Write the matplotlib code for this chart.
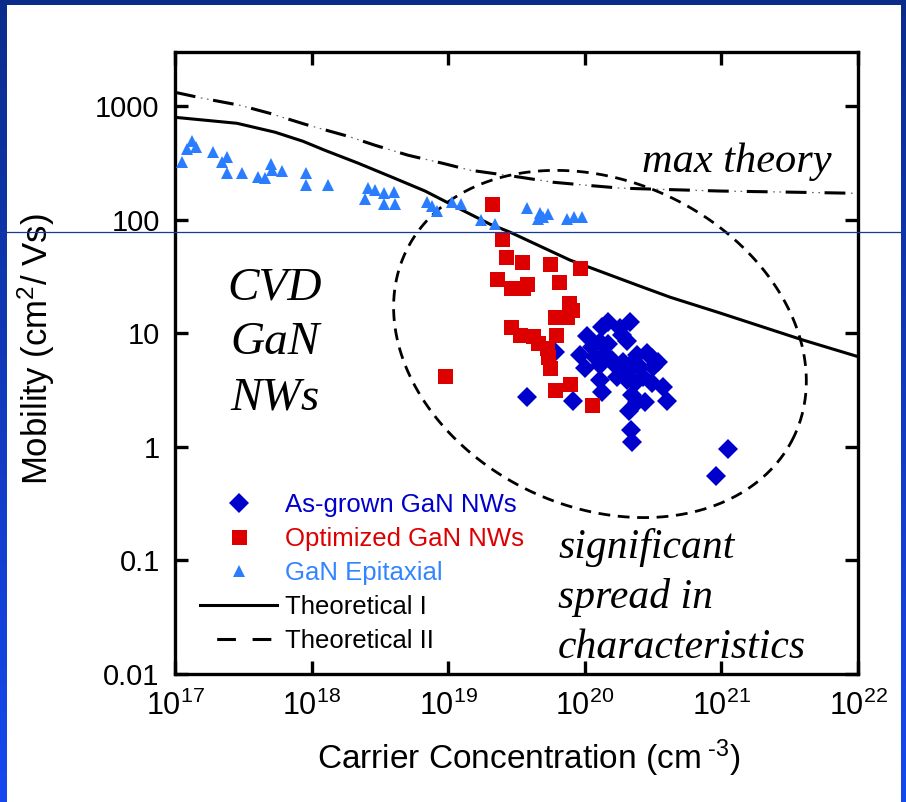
import numpy as np
import matplotlib
matplotlib.use('Agg')
import matplotlib.pyplot as plt
from matplotlib.lines import Line2D

plt.rcParams['font.family'] = ['Liberation Sans', 'DejaVu Sans']
plt.rcParams['mathtext.fontset'] = 'custom'
plt.rcParams['mathtext.rm'] = 'Liberation Sans'
plt.rcParams['mathtext.it'] = 'Liberation Sans:italic'
plt.rcParams['lines.scale_dashes'] = False

# ---------------- data ----------------
epi_n = [1.13e17, 1.22e17, 1.33e17, 1.43e17, 1.90e17, 2.21e17, 2.40e17, 2.40e17,
         3.09e17, 4.05e17, 4.56e17, 5.05e17, 5.13e17, 6.07e17, 9.1e17, 9.1e17,
         1.32e18, 2.59e18, 2.91e18, 2.46e18, 3.39e18, 4.01e18, 3.39e18, 4.08e18,
         7.0e18, 7.6e18, 8.3e18, 1.07e19, 1.24e19, 1.74e19, 2.20e19, 3.78e19,
         4.70e19, 4.94e19, 5.38e19, 4.54e19, 7.41e19, 8.34e19, 9.55e19]
epi_mu = [325, 422, 497, 440, 397, 325, 359, 259,
          259, 239, 234, 311, 276, 270, 259, 203,
          203, 191, 184, 153, 173, 177, 138, 138,
          144, 133, 120, 144, 138, 100, 92, 128,
          115, 106, 113, 102, 102, 106, 106]

opt_n = [2.09e19, 2.48e19, 2.65e19, 3.47e19, 5.56e19, 9.22e19, 2.28e19, 6.47e19,
         2.88e19, 3.78e19, 3.53e19, 7.66e19, 8.05e19, 6.05e19, 7.41e19, 2.88e19,
         3.36e19, 4.18e19, 6.15e19, 4.54e19, 5.28e19, 5.38e19, 5.56e19, 9.5e18,
         6.05e19, 7.8e19, 1.13e20]
opt_mu = [138, 68, 47, 42.6, 41, 37.8, 30.2, 28.4,
          25.2, 27.3, 25.2, 18.6, 16.1, 14.0, 14.0, 11.4,
          9.7, 9.5, 9.7, 8.2, 7.45, 6.2, 4.97, 4.2,
          3.18, 3.59, 2.34]

asg_n = [6.05e19, 1.04e20, 1.34e20, 1.48e20, 1.81e20, 2.14e20, 1.87e20, 2.04e20,
         9.22e19, 1.13e20, 1.29e20, 1.48e20, 1.19e20, 1.41e20, 1.00e20, 1.29e20,
         1.58e20, 1.72e20, 1.91e20, 1.87e20, 2.14e20, 2.04e20, 2.41e20, 2.54e20,
         2.85e20, 3.10e20, 3.44e20, 3.16e20, 2.67e20, 2.33e20, 3.10e20, 3.73e20,
         1.29e20, 1.34e20, 8.2e19, 2.22e20, 2.41e20, 2.76e20, 4.0e20, 2.11e20,
         2.18e20, 2.22e20, 1.72e20, 2.25e20, 3.78e19, 1.12e21, 9.1e20]
asg_mu = [6.9, 9.5, 11.4, 12.6, 11.2, 12.6, 9.7, 8.6,
          6.47, 7.6, 8.4, 8.1, 6.2, 6.47, 4.97, 5.3,
          5.8, 5.07, 5.6, 4.49, 4.77, 3.89, 6.47, 5.07,
          6.73, 6.08, 5.6, 5.07, 4.14, 3.66, 3.66, 3.38,
          3.89, 3.05, 2.54, 2.87, 2.49, 2.49, 2.54, 2.08,
          1.41, 1.11, 4.14, 5.6, 2.76, 0.96, 0.555]

theo1_n = [1.00e17, 2.84e17, 5.40e17, 8.65e17, 1.25e18, 2.19e18, 3.88e18, 6.77e18,
           1.18e19, 2.02e19, 2.83e19, 7.80e19, 2.41e20, 4.21e20, 9.77e20, 3.95e21, 9.66e21]
theo1_mu = [798, 707, 590, 491, 409, 315, 237, 179,
            127, 91.5, 77.8, 44.1, 26.6, 20.8, 15.1, 8.73, 6.31]

theo2_n = [1.0e17, 1.60e17, 2.99e17, 4.95e17, 8.95e17, 1.85e18, 2.91e18, 5.08e18,
           9.02e18, 1.45e19, 3.36e19, 5.85e19, 1.04e20, 1.81e20, 3.16e20, 9.77e20,
           3.18e21, 9.66e21]
theo2_mu = [1325, 1173, 1018, 865, 693, 543, 453, 370,
            315, 273, 237, 214, 201, 190, 186, 179,
            175, 171]

# highlight ellipse (log-decade space): centre and the two semi-axis vectors
ell_center = (20.111, 0.906)
ell_u = (1.4207, -0.8141)
ell_v = (-0.5137, -1.2939)

xticks = [1e17, 1e18, 1e19, 1e20, 1e21, 1e22]
xticklabels = [r'$\mathregular{10^{17}}$', r'$\mathregular{10^{18}}$', r'$\mathregular{10^{19}}$',
               r'$\mathregular{10^{20}}$', r'$\mathregular{10^{21}}$', r'$\mathregular{10^{22}}$']
yticks = [0.01, 0.1, 1, 10, 100, 1000]
yticklabels = ['0.01', '0.1', '1', '10', '100', '1000']

labels = ['As-grown GaN NWs', 'Optimized GaN NWs', 'GaN Epitaxial', 'Theoretical I', 'Theoretical II']

C_ASG = '#0000CC'
C_OPT = '#DD0000'
C_EPI = '#2B7DFF'
C_EPI_TXT = '#3385FF'

# ---------------- figure ----------------
W, H = 906, 802
fig = plt.figure(figsize=(W / 100, H / 100), dpi=100, facecolor='white')

# slide background with blue frame
bg = fig.add_axes([0, 0, 1, 1], zorder=-10)
bg.axis('off')
img = np.ones((H, W, 3))
top_c = np.array([10, 45, 140]) / 255.0
bot_c = np.array([22, 72, 240]) / 255.0
tt = np.linspace(0, 1, H)[:, None]
grad = top_c * (1 - tt) + bot_c * tt
img[:, :7] = grad[:, None, :]
img[:, 901:] = grad[:, None, :]
img[:5, :] = top_c
bg.imshow(img, aspect='auto', extent=(0, 1, 0, 1), interpolation='nearest')
bg.set_xlim(0, 1)
bg.set_ylim(0, 1)

ax = fig.add_axes([175 / W, 1 - 674 / H, 683 / W, 622 / H])
ax.set_xscale('log')
ax.set_yscale('log')
ax.set_xlim(1e17, 1e22)
ax.set_ylim(0.01, 3000)

# theory curves
ax.plot(theo1_n, theo1_mu, color='black', lw=2.2, zorder=2)
ax.plot(theo2_n, theo2_mu, color='black', lw=2.2, ls=(0, (15, 13)), zorder=2)
ax.plot(theo2_n, theo2_mu, color='#666666', lw=0.9, ls=(9.0, (1.2, 3.3, 1.2, 22.3)), zorder=2)

# ellipse highlight
t = np.linspace(0, 2 * np.pi, 400)
lx = ell_center[0] + ell_u[0] * np.cos(t) + ell_v[0] * np.sin(t)
ly = ell_center[1] + ell_u[1] * np.cos(t) + ell_v[1] * np.sin(t)
ax.plot(10 ** lx, 10 ** ly, color='black', lw=2.0, ls=(0, (8.5, 5.5)), zorder=2)

# scatter data
ax.plot(epi_n, epi_mu, ls='none', marker='^', ms=9.0, mew=0, color=C_EPI, zorder=4)
ax.plot(asg_n, asg_mu, ls='none', marker='D', ms=10.2, mew=0, color=C_ASG, zorder=4)
ax.plot(opt_n, opt_mu, ls='none', marker='s', ms=10.8, mew=0, color=C_OPT, zorder=5)

# axes styling
ax.set_xticks(xticks)
ax.set_xticklabels(xticklabels)
ax.set_yticks(yticks)
ax.set_yticklabels(yticklabels)
ax.minorticks_off()
ax.tick_params(which='major', direction='in', length=9.5, width=2.4,
               top=True, right=True, labelsize=21)
ax.tick_params(axis='x', pad=12, labelsize=22)
ax.tick_params(axis='y', pad=11)
for s in ax.spines.values():
    s.set_linewidth(2.4)

fig.text(529 / W, 1 - 758 / H, r'Carrier Concentration (cm$^{\text{ -3}}$)', fontsize=24,
         ha='center', va='center')
fig.text(36 / W, 1 - 349 / H, r'Mobility (cm$^{2}$/ Vs)', fontsize=25,
         ha='center', va='center', rotation=90)

# legend
handles = [
    Line2D([], [], ls='none', marker='D', ms=10.0, mew=0, color=C_ASG),
    Line2D([], [], ls='none', marker='s', ms=10.8, mew=0, color=C_OPT),
    Line2D([], [], ls='none', marker='^', ms=8.0, mew=0, color=C_EPI),
    Line2D([], [], color='black', lw=2.2),
    Line2D([], [], color='black', lw=2.2, ls=(13.5, (13.5, 12))),
]
ax.legend(handles, labels, loc='upper left', bbox_to_anchor=((200 - 175) / 683, (674 - 493) / 622),
          frameon=False, fontsize=18.5, handlelength=3.0, handletextpad=0.3,
          labelspacing=0.39, borderpad=0, borderaxespad=0,
          labelcolor=[C_ASG, C_OPT, C_EPI_TXT, 'black', 'black'])

# annotations
serif = ['Liberation Serif', 'DejaVu Serif']
fig.text(275 / W, 1 - 343 / H, 'CVD\nGaN\nNWs', family=serif, style='italic', fontsize=34,
         ha='center', va='center', multialignment='center', linespacing=1.38)
fig.text(642 / W, 1 - 172 / H, 'max theory', family=serif, style='italic', fontsize=30.5,
         ha='left', va='baseline')
fig.text(558 / W, 1 - 658 / H, 'significant\nspread in\ncharacteristics', family=serif,
         style='italic', fontsize=30, ha='left', va='baseline', linespacing=1.38)

# thin horizontal rule across the slide
fig.add_artist(Line2D([0, 903 / W], [1 - 231.5 / H, 1 - 231.5 / H], transform=fig.transFigure,
                      color='#15389A', lw=0.9, zorder=20))

fig.savefig('out.png', dpi=100, facecolor='white')
